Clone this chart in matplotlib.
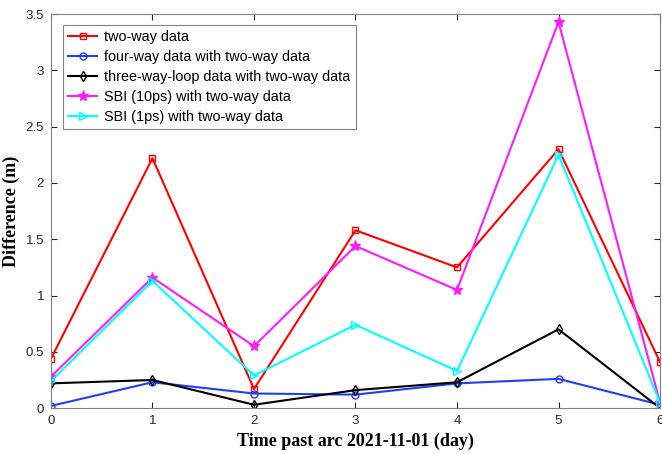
import numpy as np
import matplotlib.pyplot as plt

days = [0, 1, 2, 3, 4, 5, 6]
two_way = [0.44, 2.22, 0.17, 1.58, 1.25, 2.30, 0.41]
four_way = [0.02, 0.23, 0.13, 0.12, 0.22, 0.26, 0.03]
three_way_loop = [0.22, 0.25, 0.03, 0.16, 0.23, 0.70, 0.0]
sbi_10ps = [0.28, 1.16, 0.55, 1.44, 1.05, 3.43, 0.05]
sbi_1ps = [0.24, 1.13, 0.29, 0.74, 0.33, 2.25, 0.05]

labels = ['two-way data', 'four-way data with two-way data',
          'three-way-loop data with two-way data',
          'SBI (10ps) with two-way data', 'SBI (1ps) with two-way data']

plt.rcParams['font.family'] = 'Liberation Sans'

fig = plt.figure(figsize=(6.62, 4.54), dpi=100)
ax = fig.add_axes([0.077, 0.101, 0.920, 0.868])

ax.plot(days, two_way, color='red', marker='s', markersize=5, mfc='none', lw=1.5, label=labels[0])
ax.plot(days, four_way, color='#1f3ff5', marker='o', markersize=5, mfc='none', lw=1.5, label=labels[1])
ax.plot(days, three_way_loop, color='black', marker='d', markersize=5, mfc='none', lw=1.5, label=labels[2])
ax.plot(days, sbi_10ps, color='#ff1aff', marker='*', markersize=8, lw=1.5, label=labels[3])
ax.plot(days, sbi_1ps, color='cyan', marker='>', markersize=6, mfc='none', lw=1.5, label=labels[4])

ax.set_xlim(0, 6)
ax.set_ylim(0, 3.5)
ax.set_xticks(days)
ax.set_yticks(np.arange(0, 3.51, 0.5))
ax.set_yticklabels(['0', '0.5', '1', '1.5', '2', '2.5', '3', '3.5'])
ax.tick_params(direction='in', top=True, right=True, labelsize=9.5, colors='#262626', length=4, pad=5)
for s in ax.spines.values():
    s.set_color('#808080')

ax.set_xlabel('Time past arc 2021-11-01 (day)', family='Liberation Serif', fontweight='bold', fontsize=13)
ax.set_ylabel('Difference (m)', family='Liberation Serif', fontweight='bold', fontsize=13)

leg = ax.legend(loc='upper left', bbox_to_anchor=(0.02, 0.972), borderaxespad=0, fontsize=10.4,
                fancybox=False, framealpha=1, edgecolor='#808080', handlelength=2.0,
                handletextpad=0.5, borderpad=0.35, labelspacing=0.42)
leg.get_frame().set_linewidth(0.8)

fig.savefig('out.png', dpi=100)
